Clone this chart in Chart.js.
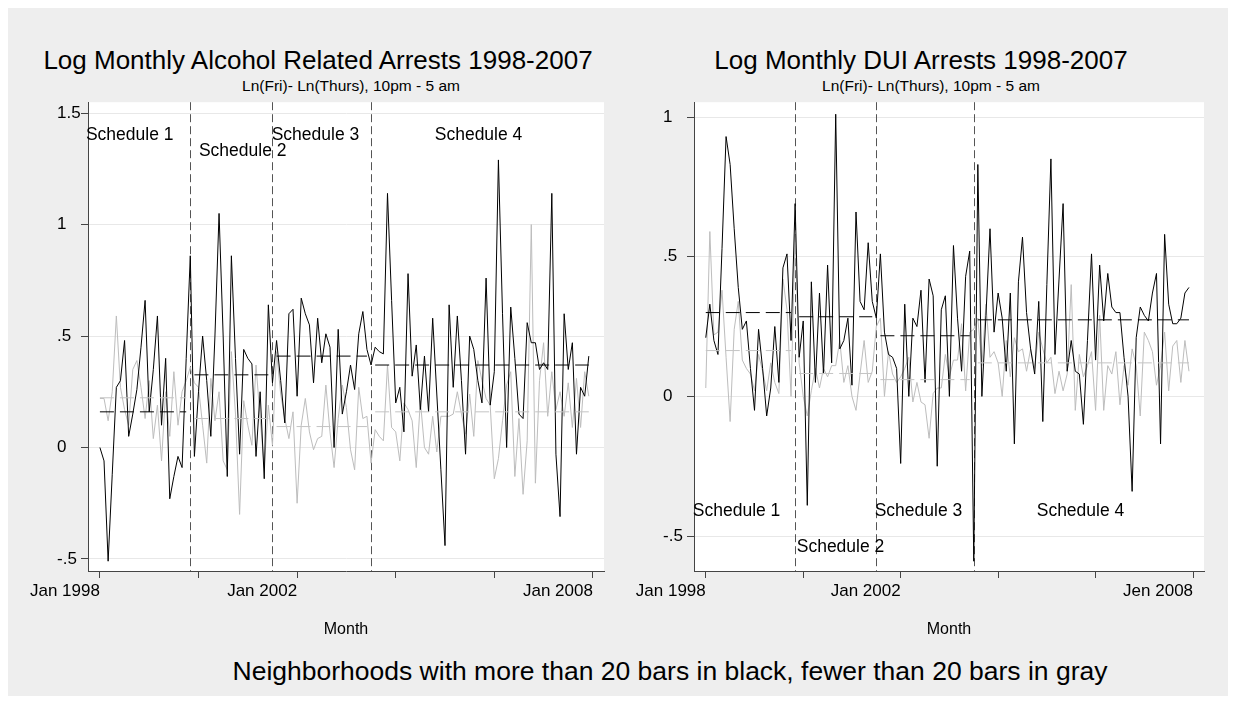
<!DOCTYPE html>
<html>
<head>
<meta charset="utf-8">
<script src="https://cdn.jsdelivr.net/npm/chart.js@4"></script>
<style>
  body { margin: 0; background: #fff; font-family: "Liberation Sans", Arial, sans-serif; }
  #frame { position: absolute; left: 8px; top: 8px; width: 1220px; height: 688px; background: #eeeeee; }
  .t { position: absolute; white-space: nowrap; transform: translate(-50%, -50%); color: #000; }
  .title { font-size: 26px; }
  .note { font-size: 26.5px; }
  .sub { font-size: 15.5px; }
  canvas { position: absolute; }
</style>
</head>
<body>
<div id="frame"></div>
<div class="t title" style="left:318px; top:60px;">Log Monthly Alcohol Related Arrests 1998-2007</div>
<div class="t sub" style="left:351px; top:86px;">Ln(Fri)- Ln(Thurs), 10pm - 5 am</div>
<div class="t title" style="left:921px; top:60px;">Log Monthly DUI Arrests 1998-2007</div>
<div class="t sub" style="left:931px; top:86px;">Ln(Fri)- Ln(Thurs), 10pm - 5 am</div>
<div class="t note" style="left:670px; top:671px;">Neighborhoods with more than 20 bars in black, fewer than 20 bars in gray</div>
<canvas id="left" width="620" height="560" style="left:0; top:90px;"></canvas>
<canvas id="right" width="618" height="560" style="left:618px; top:90px;"></canvas>
<script>
// months since Jan 1998 (0 = Jan 1998 ... 119 = Dec 2007)
const months = Array.from({ length: 120 }, (_, i) => i);

// alcohol related arrests, ln(Fri) - ln(Thurs)
const alcBlack = [
  0.00, -0.06, -0.51, -0.12, 0.27, 0.30, 0.48, 0.05, 0.15, 0.26, 0.45, 0.66,
  0.16, 0.35, 0.59, 0.10, 0.40, -0.23, -0.13, -0.04, -0.09, 0.40, 0.86, -0.04,
  0.25, 0.50, 0.30, 0.05, 0.50, 1.05, 0.50, -0.13, 0.86, 0.40, -0.03, 0.44,
  0.40, 0.375, -0.04, 0.25, -0.14, 0.64, 0.29, 0.48, 0.30, 0.11, 0.60, 0.62,
  0.23, 0.67, 0.60, 0.55, 0.29, 0.58, 0.38, 0.51, 0.45, 0.00, 0.53, 0.15,
  0.25, 0.37, 0.26, 0.51, 0.61, 0.44, 0.37, 0.45, 0.43, 0.42, 1.14, 0.66,
  0.20, 0.27, 0.07, 0.78, 0.32, 0.46, 0.17, 0.41, 0.16, 0.58, 0.24, -0.10,
  -0.44, 0.64, 0.27, 0.59, 0.30, -0.03, 0.50, 0.44, 0.30, 0.20, 0.76, 0.19,
  0.34, 1.29, 0.60, 0.00, 0.63, 0.40, 0.15, 0.13, 0.56, 0.47, 0.47, 0.35,
  0.38, 0.35, 1.14, -0.03, -0.31, 0.60, 0.35, 0.47, -0.03, 0.27, 0.23, 0.41
];
const alcGray = [
  0.22, 0.22, 0.12, 0.25, 0.59, 0.27, 0.17, 0.10, 0.35, 0.39, 0.27, 0.13,
  0.30, 0.04, 0.19, -0.06, 0.25, 0.05, 0.34, 0.10, 0.25, 0.30, 0.36, 0.29,
  0.27, 0.10, -0.07, 0.31, 0.12, 0.25, -0.06, -0.10, 0.43, 0.15, -0.30, 0.21,
  0.10, 0.01, 0.37, 0.13, -0.09, 0.19, 0.01, 0.43, 0.24, 0.13, 0.04, 0.16,
  -0.25, 0.10, 0.22, 0.07, -0.01, 0.04, 0.05, 0.28, 0.07, -0.09, 0.13, 0.28,
  0.18, -0.01, -0.10, 0.27, 0.13, 0.14, -0.07, 0.08, 0.05, 0.03, 0.37, 0.09,
  0.07, -0.06, 0.20, 0.17, 0.12, -0.09, 0.21, 0.00, -0.03, 0.14, -0.02, 0.14,
  0.14, 0.14, 0.15, 0.25, 0.15, 0.06, 0.24, 0.05, 0.39, 0.30, 0.22, 0.19,
  -0.14, -0.05, 0.12, 0.28, 0.34, -0.13, 0.13, -0.21, 0.03, 1.00, -0.16, 0.30,
  0.47, 0.14, 0.34, 0.17, 0.25, 0.14, 0.29, 0.09, 0.31, 0.09, 0.34, 0.23
];

// DUI arrests, ln(Fri) - ln(Thurs)
const duiBlack = [
  0.21, 0.33, 0.20, 0.15, 0.53, 0.93, 0.83, 0.60, 0.39, 0.24, 0.27, 0.10,
  -0.05, 0.24, 0.10, -0.07, 0.03, 0.25, 0.05, 0.46, 0.51, 0.20, 0.69, 0.14,
  0.27, -0.39, 0.41, 0.05, 0.37, 0.08, 0.47, 0.12, 1.01, 0.17, 0.20, 0.28,
  0.04, 0.66, 0.34, 0.31, 0.55, 0.34, 0.28, 0.51, 0.23, 0.15, 0.14, 0.10,
  -0.24, 0.33, 0.00, 0.28, 0.25, 0.38, 0.05, 0.42, 0.36, -0.25, 0.31, 0.36,
  0.00, 0.54, 0.28, 0.09, 0.43, 0.52, -0.59, 0.83, 0.00, 0.29, 0.60, 0.23,
  0.37, 0.28, 0.09, 0.37, -0.17, 0.41, 0.57, 0.30, 0.17, 0.08, 0.34, -0.09,
  0.40, 0.85, 0.15, 0.42, 0.69, 0.09, 0.20, 0.09, 0.08, -0.10, 0.20, 0.51,
  0.13, 0.47, 0.27, 0.44, 0.32, 0.30, 0.30, 0.14, 0.00, -0.34, 0.21, 0.32,
  0.29, 0.27, 0.37, 0.44, -0.17, 0.58, 0.33, 0.26, 0.26, 0.28, 0.37, 0.39
];
const duiGray = [
  0.03, 0.59, 0.22, 0.23, 0.38, 0.14, -0.09, 0.24, 0.34, 0.13, 0.10, 0.08,
  0.02, 0.15, 0.09, 0.02, 0.12, 0.05, 0.01, 0.42, 0.31, 0.00, 0.58, 0.12,
  0.00, -0.07, 0.02, 0.10, 0.03, 0.10, 0.07, 0.11, 0.11, 0.20, 0.05, 0.11,
  0.00, -0.05, 0.08, 0.20, 0.05, 0.09, 0.25, 0.28, 0.00, 0.16, 0.08, 0.05,
  0.07, 0.10, 0.14, -0.02, 0.05, -0.02, -0.03, -0.15, 0.01, 0.03, 0.03, 0.15,
  0.07, 0.13, 0.13, 0.26, 0.02, 0.23, 0.24, 0.28, 0.11, 0.33, 0.14, 0.16,
  0.12, 0.00, 0.20, 0.07, 0.21, 0.16, 0.17, 0.09, 0.17, 0.10, 0.23, 0.17,
  0.12, 0.14, 0.01, 0.09, 0.02, 0.08, 0.40, -0.05, 0.15, 0.07, 0.11, 0.16,
  -0.05, 0.29, -0.05, 0.11, 0.08, 0.16, -0.03, 0.11, 0.04, 0.17, 0.11, -0.07,
  0.23, 0.20, 0.16, 0.04, 0.11, 0.23, 0.02, 0.18, 0.20, 0.05, 0.20, 0.09
];

// schedule periods (month index) and per-schedule means
const schedNames = ["Schedule 1", "Schedule 2", "Schedule 3", "Schedule 4"];
const schedStart = [0, 23, 43, 67];
const schedEnd = [21, 41, 65, 119];
const schedBreaks = [22, 42, 66];
const alcBlackMean = [0.16, 0.326, 0.41, 0.37];
const alcGrayMean = [0.223, 0.13, 0.094, 0.16];
const duiBlackMean = [0.30, 0.285, 0.217, 0.274];
const duiGrayMean = [0.164, 0.082, 0.06, 0.12];

// axis ticks
const xTicks = [0, 24, 48, 72, 96, 120];
const xLabelsAlc = ["Jan 1998", "", "Jan 2002", "", "", "Jan 2008"];
const xLabelsDui = ["Jan 1998", "", "Jan 2002", "", "", "Jen 2008"];
const yTicksAlc = [-0.5, 0, 0.5, 1, 1.5];
const yTicksDui = [-0.5, 0, 0.5, 1];

Chart.defaults.font.family = '"Liberation Sans", Arial, sans-serif';
Chart.defaults.color = "#000";

const fmtY = v => v === 0 ? "0" : (v < 0 ? "-" : "") + String(Math.abs(v)).replace(/^0/, "");

function meanSets(means, color) {
  return means.map((m, i) => ({
    data: [{ x: schedStart[i], y: m }, { x: schedEnd[i], y: m }],
    borderColor: color, borderWidth: 1, borderDash: [14, 6],
    pointRadius: 0, fill: false, order: 0
  }));
}

function makeChart(id, black, gray, bMean, gMean, yTicks, yMin, yMax, xLabels, labelAt, pad) {
  const marks = {
    id: "schedMarks",
    beforeDatasetsDraw(chart) {
      const { ctx, chartArea, scales } = chart;
      ctx.save();
      ctx.strokeStyle = "#555";
      ctx.lineWidth = 1;
      ctx.setLineDash([8, 4]);
      schedBreaks.forEach(b => {
        const px = Math.round(scales.x.getPixelForValue(b)) + 0.5;
        ctx.beginPath();
        ctx.moveTo(px, chartArea.top);
        ctx.lineTo(px, chartArea.bottom);
        ctx.stroke();
      });
      ctx.restore();
    },
    afterDatasetsDraw(chart) {
      const { ctx, scales } = chart;
      ctx.save();
      ctx.fillStyle = "#000";
      ctx.font = '17.5px "Liberation Sans", Arial, sans-serif';
      ctx.textAlign = "left";
      ctx.textBaseline = "middle";
      schedNames.forEach((s, i) => {
        ctx.fillText(s, scales.x.getPixelForValue(labelAt[i][0]), scales.y.getPixelForValue(labelAt[i][1]));
      });
      ctx.restore();
    }
  };

  const pts = arr => months.map((m, i) => ({ x: m, y: arr[i] }));

  return new Chart(document.getElementById(id), {
    type: "line",
    data: {
      datasets: [
        ...meanSets(bMean, "#000"),
        ...meanSets(gMean, "#c4c4c4"),
        { data: pts(black), borderColor: "#000", borderWidth: 1, pointRadius: 0, tension: 0, order: 1 },
        { data: pts(gray), borderColor: "#bdbdbd", borderWidth: 1, pointRadius: 0, tension: 0, order: 2 }
      ]
    },
    options: {
      responsive: false,
      animation: false,
      layout: { padding: pad },
      plugins: { legend: { display: false }, tooltip: { enabled: false } },
      scales: {
        x: {
          type: "linear",
          min: -2.9, max: 122.7,
          afterBuildTicks: s => { s.ticks = xTicks.map(v => ({ value: v })); },
          afterFit: s => { s.height = 79; },
          ticks: {
            align: "end", padding: 3, maxRotation: 0, autoSkip: false,
            font: { size: 17 },
            callback: v => xLabels[xTicks.indexOf(v)]
          },
          grid: { drawOnChartArea: false, tickLength: 7, tickColor: "#444" },
          border: { color: "#444" },
          title: { display: true, text: "Month", font: { size: 16 }, padding: { top: 0, bottom: 11 } }
        },
        y: {
          min: yMin, max: yMax,
          afterBuildTicks: s => { s.ticks = yTicks.map(v => ({ value: v })); },
          afterFit: s => { s.width = 31; },
          ticks: { crossAlign: "far", padding: 2, font: { size: 17 }, callback: fmtY },
          grid: { color: "#e8e8e8", tickLength: 7, tickColor: "#444" },
          border: { color: "#444" }
        }
      }
    },
    plugins: [
      {
        id: "plotBg",
        beforeDraw(chart) {
          const { ctx, chartArea: a } = chart;
          ctx.save();
          ctx.fillStyle = "#fff";
          ctx.fillRect(a.left, a.top, a.right - a.left, a.bottom - a.top);
          ctx.restore();
        }
      },
      marks
    ]
  });
}

makeChart("left", alcBlack, alcGray, alcBlackMean, alcGrayMean, yTicksAlc, -0.554, 1.549, xLabelsAlc,
  [[-3.4, 1.40], [24.1, 1.33], [41.8, 1.40], [81.5, 1.40]],
  { left: 57, right: 16, top: 9, bottom: 0 });

makeChart("right", duiBlack, duiGray, duiBlackMean, duiGrayMean, yTicksDui, -0.625, 1.053, xLabelsDui,
  [[-3.2, -0.41], [22.4, -0.54], [41.6, -0.41], [81.5, -0.41]],
  { left: 45, right: 32, top: 9, bottom: 0 });
</script>
</body>
</html>
